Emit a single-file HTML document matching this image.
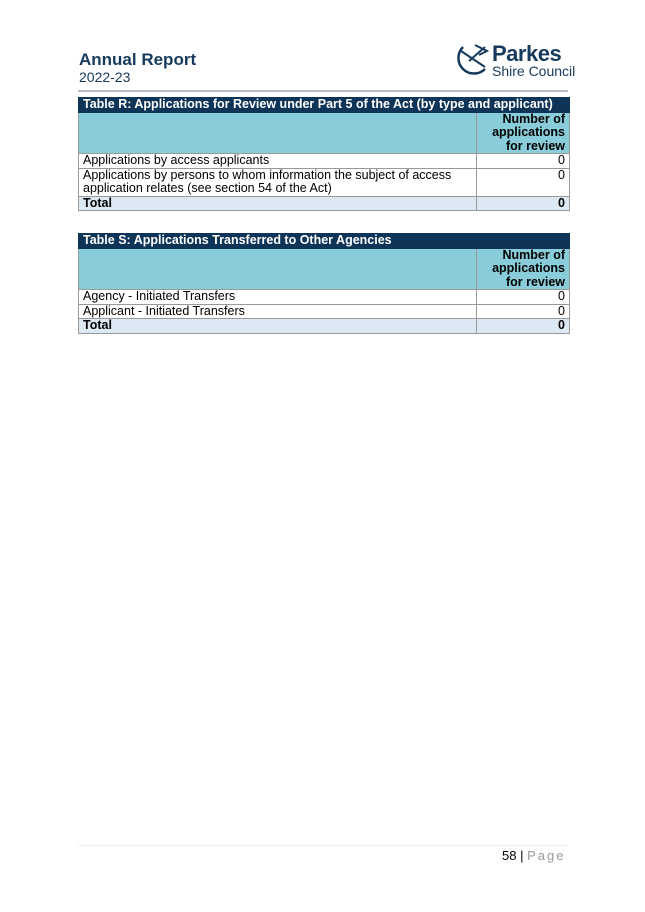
<!DOCTYPE html>
<html><head><meta charset="utf-8"><style>
body{margin:0;width:645px;height:912px;background:#fff;position:relative;font-family:"Liberation Sans",Arial,sans-serif;color:#000;}
.abs{position:absolute;}
table{border-collapse:collapse;position:absolute;left:78px;width:492px;font-size:12.5px;}
td{border:1px solid #999;padding:0 4px;line-height:13.5px;vertical-align:top;}
.t td{background:#0e3458;color:#fff;font-weight:bold;border-color:#0e3458;height:13px;}
.h td{background:#8acdda;height:40px;font-weight:bold;}
.r{text-align:right;width:84px;}
.tot td{background:#dce9f5;font-weight:bold;}
</style></head><body>
<div class="abs" style="left:79px;top:50px;font-size:17px;font-weight:bold;color:#163a5c;">Annual Report</div>
<div class="abs" style="left:79px;top:69px;font-size:14px;color:#163a5c;">2022-23</div>
<svg class="abs" style="left:455px;top:43px" width="36" height="34" viewBox="0 0 36 34">
<path d="M8 4 A14 14 0 1 0 30 26" fill="none" stroke="#163a5c" stroke-width="2.5"/>
<path d="M6 8 L30 24 M14 18 L30 4 M20 2 L32 8 L24 12" fill="none" stroke="#163a5c" stroke-width="2"/>
</svg>
<div class="abs" style="left:492px;top:41px;font-size:22px;font-weight:bold;color:#163a5c;letter-spacing:-0.5px;">Parkes</div>
<div class="abs" style="left:492px;top:63px;font-size:14px;color:#163a5c;">Shire Council</div>
<div class="abs" style="left:78px;top:90px;width:490px;height:2px;background:#b5bfca;"></div>

<table style="top:97px;">
<tr class="t"><td colspan="2">Table R: Applications for Review under Part 5 of the Act (by type and applicant)</td></tr>
<tr class="h"><td></td><td class="r">Number of applications for review</td></tr>
<tr><td>Applications by access applicants</td><td class="r">0</td></tr>
<tr><td>Applications by persons to whom information the subject of access application relates (see section 54 of the Act)</td><td class="r">0</td></tr>
<tr class="tot"><td>Total</td><td class="r">0</td></tr>
</table>

<table style="top:233px;">
<tr class="t"><td>Table S: Applications Transferred to Other Agencies</td><td class="r"></td></tr>
<tr class="h"><td></td><td class="r">Number of applications for review</td></tr>
<tr><td>Agency - Initiated Transfers</td><td class="r">0</td></tr>
<tr><td>Applicant - Initiated Transfers</td><td class="r">0</td></tr>
<tr class="tot"><td>Total</td><td class="r">0</td></tr>
</table>

<div class="abs" style="left:78px;top:845px;width:490px;height:1px;background:#eee;"></div>
<div class="abs" style="left:502px;top:848px;font-size:13px;">58 | <span style="color:#999;letter-spacing:2px;">Page</span></div>
</body></html>
